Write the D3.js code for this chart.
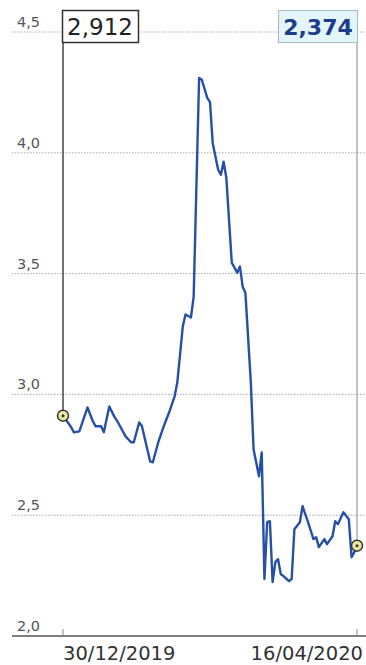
<!DOCTYPE html>
<html>
<head>
<meta charset="utf-8">
<script src="https://cdn.jsdelivr.net/npm/d3@7"></script>
<style>
  body { margin: 0; background: #fff; }
  text { font-family: "DejaVu Sans", sans-serif; }
</style>
</head>
<body>
<div id="chart"></div>
<script>
// dates and yield values
const dates = ["2019-12-30","2020-01-02","2020-01-03","2020-01-05","2020-01-08","2020-01-10","2020-01-11",
  "2020-01-13","2020-01-14","2020-01-16","2020-01-18","2020-01-19","2020-01-22","2020-01-24","2020-01-25",
  "2020-01-27","2020-01-28","2020-01-31","2020-02-01","2020-02-03","2020-02-05","2020-02-07","2020-02-09",
  "2020-02-10","2020-02-12","2020-02-13","2020-02-15","2020-02-16","2020-02-18","2020-02-19","2020-02-21",
  "2020-02-22","2020-02-23","2020-02-25","2020-02-26","2020-02-27","2020-02-28","2020-03-01","2020-03-03",
  "2020-03-04","2020-03-05","2020-03-06","2020-03-08","2020-03-09","2020-03-11","2020-03-12","2020-03-13",
  "2020-03-14","2020-03-15","2020-03-16","2020-03-17","2020-03-18","2020-03-19","2020-03-20","2020-03-22",
  "2020-03-23","2020-03-24","2020-03-26","2020-03-27","2020-03-29","2020-03-31","2020-04-01","2020-04-02",
  "2020-04-04","2020-04-05","2020-04-07","2020-04-08","2020-04-09","2020-04-11","2020-04-13","2020-04-14",
  "2020-04-15","2020-04-16"];
const values = [2.912,2.864,2.843,2.847,2.946,2.888,2.868,
  2.868,2.843,2.950,2.905,2.888,2.826,2.802,2.802,
  2.884,2.868,2.723,2.719,2.802,2.868,2.926,2.992,
  3.05,3.281,3.331,3.318,3.405,4.31,4.302,4.227,
  4.21,4.04,3.93,3.909,3.963,3.897,3.545,3.504,
  3.529,3.446,3.421,3.05,2.773,2.661,2.760,2.236,
  2.471,2.475,2.223,2.306,2.318,2.256,2.248,2.227,
  2.236,2.442,2.471,2.537,2.471,2.401,2.409,2.368,
  2.401,2.380,2.413,2.475,2.463,2.512,2.483,2.326,
  2.347,2.374];

const yTicks = [2.0, 2.5, 3.0, 3.5, 4.0, 4.5];
const xTickDates = ["2019-12-30", "2020-04-16"];
const xTickLabels = ["30/12/2019", "16/04/2020"];
const firstLabel = "2,912";
const lastLabel = "2,374";

const width = 366, height = 665;
const parse = d3.timeParse("%Y-%m-%d");
const data = dates.map((d, i) => ({date: parse(d), value: values[i]}));

const itFormat = d3.formatLocale({decimal: ",", thousands: ".", grouping: [3], currency: ["", "€"]}).format(".1f");

const x = d3.scaleTime()
    .domain([parse(xTickDates[0]), parse(xTickDates[1])])
    .range([63, 357]);
const y = d3.scaleLinear()
    .domain([2, 4.5])
    .range([636, 32]);

const svg = d3.select("#chart").append("svg")
    .attr("width", width)
    .attr("height", height);

// dotted grid lines
svg.append("g").selectAll("line")
    .data(yTicks.slice(1))
    .enter().append("line")
    .attr("x1", 12).attr("x2", width)
    .attr("y1", d => y(d)).attr("y2", d => y(d))
    .attr("stroke", "#a8a8a8")
    .attr("stroke-width", 1)
    .attr("stroke-dasharray", "1.5,1.5");

// baseline
svg.append("line")
    .attr("x1", 12).attr("x2", width)
    .attr("y1", y(2)).attr("y2", y(2))
    .attr("stroke", "#555")
    .attr("stroke-width", 1.5);

// y labels
svg.append("g").selectAll("text")
    .data(yTicks)
    .enter().append("text")
    .attr("x", 17)
    .attr("y", d => y(d) - 5)
    .attr("font-size", 14.5)
    .attr("fill", "#555")
    .text(d => itFormat(d));

// x ticks + labels
svg.append("g").selectAll("line")
    .data(xTickDates)
    .enter().append("line")
    .attr("x1", d => x(parse(d))).attr("x2", d => x(parse(d)))
    .attr("y1", y(2) - 7).attr("y2", y(2))
    .attr("stroke", "#888");

svg.append("g").selectAll("text")
    .data(xTickDates)
    .enter().append("text")
    .attr("x", (d, i) => i == 0 ? x(parse(d)) : x(parse(d)) + 6)
    .attr("y", 660)
    .attr("text-anchor", (d, i) => i == 0 ? "start" : "end")
    .attr("font-size", 19.5)
    .attr("fill", "#333")
    .text((d, i) => xTickLabels[i]);

const first = data[0], last = data[data.length - 1];

// vertical guides from boxes to end points
svg.append("line")
    .attr("x1", x(first.date)).attr("x2", x(first.date))
    .attr("y1", 43).attr("y2", y(first.value))
    .attr("stroke", "#444").attr("stroke-width", 1.5);
svg.append("line")
    .attr("x1", x(last.date)).attr("x2", x(last.date))
    .attr("y1", 43).attr("y2", y(last.value))
    .attr("stroke", "#888").attr("stroke-width", 1);

// the series line
const line = d3.line()
    .x(d => x(d.date))
    .y(d => y(d.value));

svg.append("path")
    .datum(data)
    .attr("d", line)
    .attr("fill", "none")
    .attr("stroke", "#2650a8")
    .attr("stroke-width", 2.4)
    .attr("stroke-linejoin", "round");

// end point markers
[first, last].forEach(p => {
    svg.append("circle")
        .attr("cx", x(p.date)).attr("cy", y(p.value))
        .attr("r", 5.5)
        .attr("fill", "#ece7a0")
        .attr("stroke", "#333")
        .attr("stroke-width", 1.5);
    svg.append("circle")
        .attr("cx", x(p.date)).attr("cy", y(p.value))
        .attr("r", 1.5)
        .attr("fill", "#333");
});

// value boxes
svg.append("rect")
    .attr("x", 62.5).attr("y", 10.5)
    .attr("width", 76).attr("height", 32)
    .attr("fill", "#fff")
    .attr("stroke", "#333")
    .attr("stroke-width", 1.5);
svg.append("text")
    .attr("x", 100).attr("y", 35)
    .attr("text-anchor", "middle")
    .attr("font-size", 23)
    .attr("fill", "#222")
    .text(firstLabel);

svg.append("rect")
    .attr("x", 278.5).attr("y", 10.5)
    .attr("width", 79).attr("height", 32)
    .attr("fill", "#e2f6fa")
    .attr("stroke", "#a9b8c8")
    .attr("stroke-width", 1);
svg.append("text")
    .attr("x", 318).attr("y", 35)
    .attr("text-anchor", "middle")
    .attr("font-size", 22)
    .attr("font-weight", "bold")
    .attr("fill", "#1d3c8c")
    .text(lastLabel);
</script>
</body>
</html>
